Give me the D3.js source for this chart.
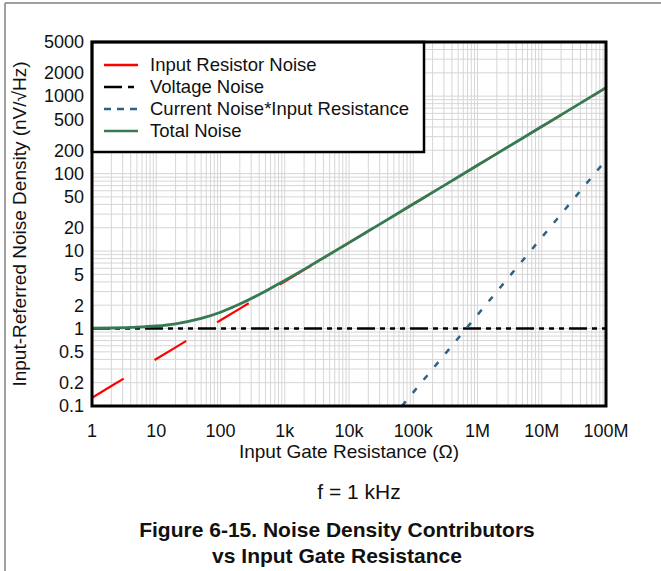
<!DOCTYPE html>
<html><head><meta charset="utf-8">
<script src="https://cdn.jsdelivr.net/npm/d3@7"></script>
<style>
html,body{margin:0;padding:0;background:#fff;}
svg{display:block;font-family:"Liberation Sans",Arial,sans-serif;}
</style></head>
<body>
<svg id="chart" width="661" height="571"></svg>
<script>
// ---- data ----
const resistance = [1,2,5,10,20,50,100,200,500,1e3,2e3,5e3,1e4,2e4,5e4,1e5,2e5,5e5,1e6,2e6,5e6,1e7,2e7,5e7,1e8];
const inputResistorNoise = [0.128,0.181,0.286,0.405,0.572,0.905,1.28,1.81,2.86,4.05,5.72,9.05,12.8,18.1,28.6,40.5,57.2,90.5,128,181,286,405,572,905,1280];
const totalNoise = [1.008,1.016,1.040,1.079,1.152,1.349,1.625,2.07,3.03,4.17,5.81,9.11,12.84,18.13,28.62,40.51,57.21,90.52,128.0,181.05,286.3,405.05,573.2,908.2,1288.8];
const voltageR = [1,1e8];
const voltageNoise = [1,1];
const currentR = [6.67e4,1e5,1e6,1e7,1e8];
const currentNoiseR = [0.1,0.15,1.5,15,150];
const xTickValues = [1,10,100,1e3,1e4,1e5,1e6,1e7,1e8];
const xTickLabels = ["1","10","100","1k","10k","100k","1M","10M","100M"];
const yTickValues = [0.1,0.2,0.5,1,2,5,10,20,50,100,200,500,1000,2000,5000];
const yTickLabels = ["0.1","0.2","0.5","1","2","5","10","20","50","100","200","500","1000","2000","5000"];
const legendLabels = ["Input Resistor Noise","Voltage Noise","Current Noise*Input Resistance","Total Noise"];

// ---- layout ----
const svg = d3.select("#chart");
const L = 92, R = 606, T = 42, B = 406;
const x = d3.scaleLog().domain([1,1e8]).range([L,R]);
const y = d3.scaleLog().domain([0.1,5000]).range([B,T]);

// page border
svg.append("line").attr("x1",5).attr("x2",5).attr("y1",3).attr("y2",571).attr("stroke","#808080").attr("stroke-width",1.5);
svg.append("line").attr("x1",5).attr("x2",661).attr("y1",3).attr("y2",3).attr("stroke","#808080").attr("stroke-width",1.5);

// grid
const gx = [], gy = [];
for (let e=0;e<8;e++) for (let m=1;m<=9;m++) gx.push(m*Math.pow(10,e));
gx.push(1e8);
for (let e=-1;e<4;e++) for (let m=1;m<=9;m++) { const v=m*Math.pow(10,e); if (v<=5000) gy.push(v); }
const grid = svg.append("g").attr("stroke","#d6d6d6").attr("stroke-width",1);
grid.selectAll(".gx").data(gx).join("line").attr("x1",d=>x(d)).attr("x2",d=>x(d)).attr("y1",T).attr("y2",B);
grid.selectAll(".gy").data(gy).join("line").attr("y1",d=>y(d)).attr("y2",d=>y(d)).attr("x1",L).attr("x2",R);

// clip
svg.append("clipPath").attr("id","clip").append("rect").attr("x",L).attr("y",T).attr("width",R-L).attr("height",B-T);
const plot = svg.append("g").attr("clip-path","url(#clip)");
const line = d3.line().x(d=>x(d[0])).y(d=>y(d[1]));

plot.append("path").datum(resistance.map((r,i)=>[r,inputResistorNoise[i]]))
  .attr("d",line).attr("fill","none").attr("stroke","#ff0000").attr("stroke-width",2.2).attr("stroke-dasharray","37,36");
plot.append("path").datum(voltageR.map((r,i)=>[r,voltageNoise[i]]))
  .attr("d",line).attr("fill","none").attr("stroke","#000").attr("stroke-width",2.5).attr("stroke-dasharray","18,5,5,5,5,5,5,5");
plot.append("path").datum(currentR.map((r,i)=>[r,currentNoiseR[i]]))
  .attr("d",line).attr("fill","none").attr("stroke","#2e6282").attr("stroke-width",2.5).attr("stroke-dasharray","6,11");
plot.append("path").datum(resistance.map((r,i)=>[r,totalNoise[i]]))
  .attr("d",d3.line().x(d=>x(d[0])).y(d=>y(d[1])).curve(d3.curveMonotoneX))
  .attr("fill","none").attr("stroke","#357a52").attr("stroke-width",2.8);

// legend
const lg = svg.append("g");
lg.append("rect").attr("x",L).attr("y",T).attr("width",424-L).attr("height",152-T).attr("fill","#fff").attr("stroke","#000").attr("stroke-width",2.5);
const legColors = ["#ff0000","#000","#2e6282","#357a52"];
const legDash = [null,"18,6,6,6","7,6",null];
legendLabels.forEach((t,i)=>{
  const yy = 65 + i*22;
  lg.append("line").attr("x1",104).attr("x2",138).attr("y1",yy).attr("y2",yy)
    .attr("stroke",legColors[i]).attr("stroke-width",2.5).attr("stroke-dasharray",legDash[i]);
  lg.append("text").attr("x",150).attr("y",yy).attr("dy","0.35em").attr("font-size",18.5).attr("fill","#111").text(t);
});

// frame
svg.append("rect").attr("x",L).attr("y",T).attr("width",R-L).attr("height",B-T).attr("fill","none").attr("stroke","#000").attr("stroke-width",3);

// tick labels
svg.append("g").selectAll("text").data(xTickValues).join("text")
  .attr("x",d=>x(d)).attr("y",431).attr("dy","0.35em").attr("text-anchor","middle").attr("font-size",18).attr("fill","#111")
  .text((d,i)=>xTickLabels[i]);
svg.append("g").selectAll("text").data(yTickValues).join("text")
  .attr("x",84).attr("y",d=>y(d)).attr("dy","0.35em").attr("text-anchor","end").attr("font-size",18).attr("fill","#111")
  .text((d,i)=>yTickLabels[i]);

// axis titles
svg.append("text").attr("x",349).attr("y",451).attr("dy","0.35em").attr("text-anchor","middle").attr("font-size",19).attr("fill","#111").text("Input Gate Resistance (Ω)");
svg.append("text").attr("transform","translate(19,224) rotate(-90)").attr("dy","0.35em").attr("text-anchor","middle").attr("font-size",19).attr("fill","#111").text("Input-Referred Noise Density (nV/√Hz)");

// footnote & caption
svg.append("text").attr("x",359).attr("y",492).attr("dy","0.35em").attr("text-anchor","middle").attr("font-size",21).attr("fill","#111").text("f = 1 kHz");
svg.append("text").attr("x",337).attr("y",530).attr("dy","0.35em").attr("text-anchor","middle").attr("font-size",21).attr("font-weight","bold").attr("fill","#111").text("Figure 6-15. Noise Density Contributors");
svg.append("text").attr("x",337).attr("y",556).attr("dy","0.35em").attr("text-anchor","middle").attr("font-size",21).attr("font-weight","bold").attr("fill","#111").text("vs Input Gate Resistance");
</script>
</body></html>
